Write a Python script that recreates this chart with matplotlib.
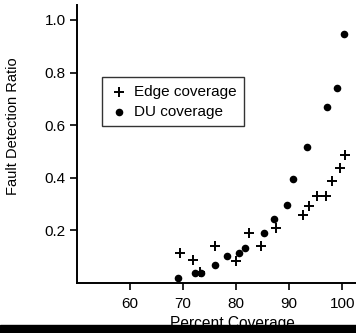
import matplotlib
matplotlib.use("Agg")
import matplotlib.pyplot as plt
from matplotlib.patches import Rectangle

plt.rcParams['font.family'] = ['Liberation Sans', 'DejaVu Sans']

edge_x = [69.5, 71.9, 73.2, 76.1, 80.1, 82.4, 84.8, 87.6, 92.7, 93.7, 95.2, 97.0, 98.1, 99.5, 100.6]
edge_y = [0.114, 0.089, 0.043, 0.142, 0.085, 0.190, 0.142, 0.211, 0.259, 0.291, 0.332, 0.332, 0.387, 0.437, 0.485]
du_x = [69.1, 72.4, 73.4, 76.0, 78.3, 80.5, 81.7, 85.3, 87.2, 89.6, 90.8, 93.4, 97.1, 99.0, 100.4]
du_y = [0.020, 0.039, 0.039, 0.070, 0.104, 0.114, 0.133, 0.192, 0.244, 0.296, 0.394, 0.519, 0.668, 0.741, 0.945]
x_ticks = [60, 70, 80, 90, 100]
y_ticks = [0.2, 0.4, 0.6, 0.8, 1.0]

fig = plt.figure(figsize=(3.56, 3.33), dpi=100)
ax = fig.add_axes([0.216, 0.150, 0.784, 0.835])

ax.scatter(edge_x, edge_y, marker='+', s=55, c='black', linewidths=1.4, label='Edge coverage')
ax.scatter(du_x, du_y, marker='o', s=30, c='black', linewidths=0, label='DU coverage')

ax.set_xlim(50.1, 102.6)
ax.set_ylim(0.0, 1.057)
ax.set_xticks(x_ticks)
ax.set_yticks(y_ticks)
ax.set_yticklabels([f"{v:.1f}" for v in y_ticks])
ax.spines['top'].set_visible(False)
ax.spines['right'].set_visible(False)
for s in ['left', 'bottom']:
    ax.spines[s].set_linewidth(1.4)
ax.tick_params(axis='both', direction='out', length=5, width=1.2, labelsize=11, pad=3)
ax.tick_params(axis='x', pad=5)

ax.set_xlabel('Percent Coverage', fontsize=11.2)
ax.set_ylabel('Fault Detection Ratio', fontsize=10.5)
ax.xaxis.set_label_coords(0.557, -0.119)
ax.yaxis.set_label_coords(-0.204, 0.565)

leg = ax.legend(loc='upper left', bbox_to_anchor=(0.09, 0.741), frameon=True, fancybox=False,
                edgecolor='black', fontsize=11, handletextpad=0.4, borderpad=0.5,
                labelspacing=0.4, handlelength=1.2, borderaxespad=0)
leg.get_frame().set_linewidth(1.0)

fig.patches.append(Rectangle((0, 0), 1, 8/333, transform=fig.transFigure, color='black', zorder=10))

fig.savefig('out.png', dpi=100)
